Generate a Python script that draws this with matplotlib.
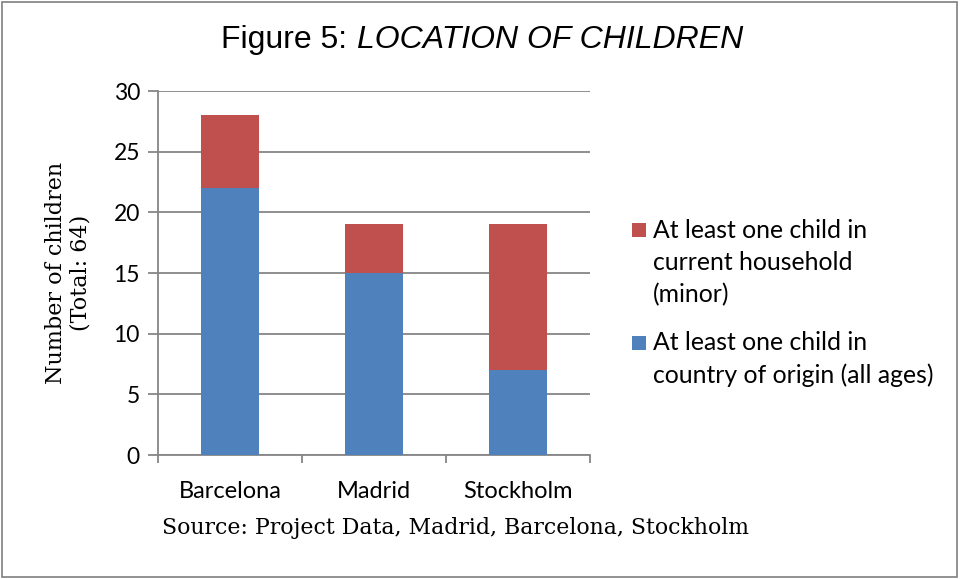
import matplotlib.pyplot as plt
from matplotlib.patches import Rectangle

cities = ["Barcelona", "Madrid", "Stockholm"]
origin_country = [22, 15, 7]      # at least one child in country of origin (all ages)
current_household = [6, 4, 12]   # at least one child in current household (minor)
y_ticks = [0, 5, 10, 15, 20, 25, 30]
legend_labels = [
    ["At least one child in", "current household", "(minor)"],
    ["At least one child in", "country of origin (all ages)"],
]

BLUE = "#4F81BD"
RED = "#C0504D"
GRID = "#868686"
TICK_FONT = "Lato"
SERIF = "DejaVu Serif"

fig = plt.figure(figsize=(9.61, 5.79), dpi=100)
ax = fig.add_axes([158 / 961, 1 - 455 / 579, (590 - 158) / 961, (455 - 91) / 579])

x = list(range(len(cities)))
ax.bar(x, origin_country, width=0.4, color=BLUE, zorder=3)
ax.bar(x, current_household, width=0.4, bottom=origin_country, color=RED, zorder=3)

ax.set_xlim(-0.5, 2.5)
ax.set_ylim(0, 30)
ax.set_yticks(y_ticks)
ax.set_yticklabels([str(v) for v in y_ticks], fontsize=16.5, family=TICK_FONT)
ax.yaxis.grid(True, color=GRID, linewidth=1.3, zorder=0)

# category labels between boundary ticks
ax.set_xticks([-0.5, 0.5, 1.5, 2.5])
ax.set_xticklabels([])
ax.set_xticks(x, minor=True)
ax.set_xticklabels(cities, minor=True, fontsize=17, family=TICK_FONT)
ax.tick_params(axis="x", which="minor", length=0, pad=19)
ax.tick_params(axis="x", which="major", length=6, width=1.3, color=GRID)
ax.tick_params(axis="y", length=7, width=1.3, color=GRID, pad=6)

for side in ["top", "right"]:
    ax.spines[side].set_visible(False)
for side in ["left", "bottom"]:
    ax.spines[side].set_color(GRID)
    ax.spines[side].set_linewidth(1.3)

ax.set_ylabel("Number of children\n(Total: 64)", fontsize=16, family=SERIF,
              linespacing=1.15, labelpad=16)

fig.text(221 / 961, 1 - 40 / 579, "Figure 5:", ha="left", va="center",
         fontsize=23, family="Liberation Sans")
fig.text(357 / 961, 1 - 40 / 579, "LOCATION OF CHILDREN", ha="left", va="center",
         fontsize=23, family="Liberation Sans", style="italic")

fig.text(456 / 961, 1 - 528 / 579, "Source: Project Data, Madrid, Barcelona, Stockholm",
         ha="center", va="center", fontsize=15.8, family=SERIF)

# legend drawn by hand so each swatch lines up with the first text line
W, H = 961, 579
line_step = 32.5
for color, lines, y0 in [(RED, legend_labels[0], 230), (BLUE, legend_labels[1], 343)]:
    fig.patches.append(Rectangle((632 / W, 1 - (y0 + 7) / H), 14 / W, 14 / H,
                                 transform=fig.transFigure, facecolor=color,
                                 edgecolor="none"))
    for i, line in enumerate(lines):
        fig.text(653 / W, 1 - (y0 + i * line_step) / H, line, ha="left", va="center",
                 fontsize=17.8, family=TICK_FONT)

fig.patches.append(Rectangle((2 / W, 2 / H), 955 / W, 575 / H,
                             transform=fig.transFigure, fill=False,
                             edgecolor="#7f7f7f", linewidth=1.2))

fig.savefig("out.png", dpi=100)
